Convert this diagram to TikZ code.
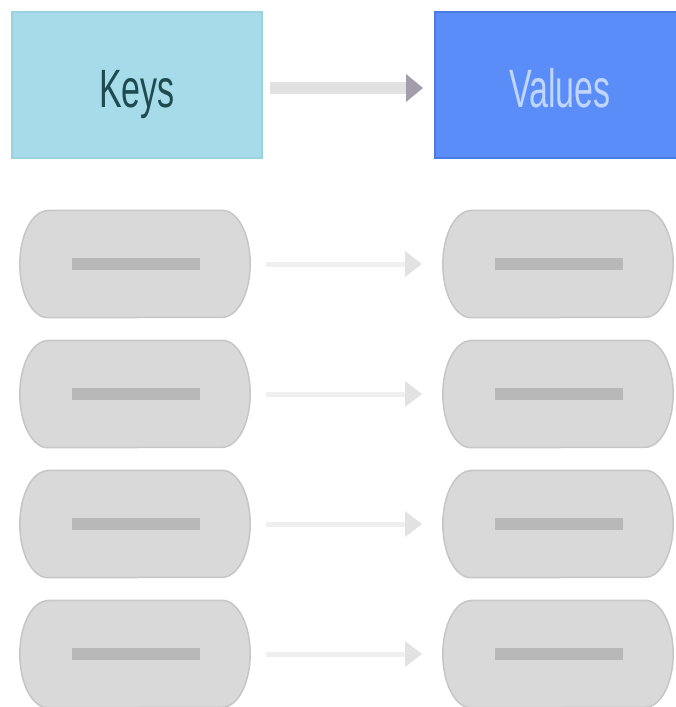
\documentclass[tikz,border=0pt]{standalone}
\usepackage{fontspec}
\setmainfont{Liberation Sans}
\usetikzlibrary{arrows.meta}
\definecolor{keyfill}{HTML}{A6DCE9}
\definecolor{keyline}{HTML}{9CD2DE}
\definecolor{keytext}{HTML}{1E4A50}
\definecolor{valfill}{HTML}{5A8DF8}
\definecolor{valline}{HTML}{4B7BE0}
\definecolor{valtext}{HTML}{C0D6FF}
\definecolor{pillfill}{HTML}{D9D9D9}
\definecolor{pillline}{HTML}{C6C6C6}
\definecolor{dashcol}{HTML}{B8B8B8}
\definecolor{hdrarrow}{HTML}{E2E2E2}
\definecolor{hdrhead}{HTML}{A39CAA}
\definecolor{rowarrow}{HTML}{EFEFEF}
\definecolor{rowhead}{HTML}{E2E2E2}
\tikzset{
  hdrbox/.style={draw, line width=1.5pt, minimum height=146pt, inner sep=0pt},
  pillnode/.style={minimum width=230pt, minimum height=107pt, inner sep=0pt},
  pillshape/.style={draw=pillline, fill=pillfill, line width=1.5pt},
  bar/.style={fill=dashcol, minimum width=128pt, minimum height=12pt, inner sep=0pt},
  hdrtext/.style={font=\fontsize{54}{54}\selectfont, anchor=base, inner sep=0pt},
}
\begin{document}
\begin{tikzpicture}[x=1pt,y=-1pt]
\useasboundingbox (0,0) rectangle (675,707);
% header
\node[hdrbox, draw=keyline, fill=keyfill, minimum width=250pt] (keys) at (137,85) {};
\node[hdrtext, text=keytext] (keyst) at (137,107) {\scalebox{0.63}[1]{Keys}};
\node[hdrbox, draw=valline, fill=valfill, minimum width=244pt] (vals) at (557,85) {};
\node[hdrtext, text=valtext] (valst) at (560,107) {\scalebox{0.63}[1]{Values}};
\coordinate (ha) at (270,88);
\coordinate (hb) at (406,88);
\coordinate (hc) at (423,88);
\draw[hdrarrow, line width=12pt] (ha) -- (hb);
\fill[hdrhead] (hb) ++(0,-14) -- (hc) -- ++(-17,14) -- cycle;
% rows
\foreach \y [count=\i] in {264,394,524,654} {
  \node[pillnode] (k\i) at (135,\y) {};
  \draw[pillshape] (k\i.north west) ++(28,0) -- ([xshift=-28pt]k\i.north east)
     arc[start angle=-90, end angle=90, x radius=28, y radius=53.5]
     -- ([xshift=28pt]k\i.south west)
     arc[start angle=90, end angle=270, x radius=28, y radius=53.5] -- cycle;
  \node[bar] (kb\i) at (136,\y) {};
  \node[pillnode] (v\i) at (558,\y) {};
  \draw[pillshape] (v\i.north west) ++(28,0) -- ([xshift=-28pt]v\i.north east)
     arc[start angle=-90, end angle=90, x radius=28, y radius=53.5]
     -- ([xshift=28pt]v\i.south west)
     arc[start angle=90, end angle=270, x radius=28, y radius=53.5] -- cycle;
  \node[bar] (vb\i) at (559,\y) {};
  \coordinate (ra\i) at (266,\y);
  \coordinate (rb\i) at (405,\y);
  \coordinate (rc\i) at (422,\y);
  \draw[rowarrow, line width=5pt] (ra\i) -- (rb\i);
  \fill[rowhead] (rb\i) ++(0,-13) -- (rc\i) -- ++(-17,13) -- cycle;
}
\end{tikzpicture}
\end{document}
